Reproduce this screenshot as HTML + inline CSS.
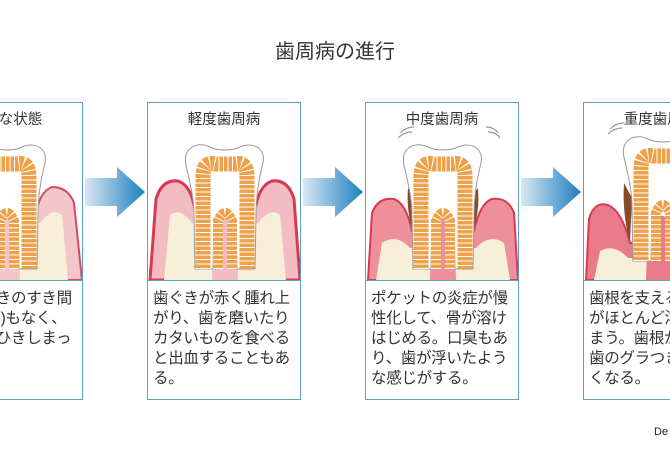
<!DOCTYPE html>
<html><head><meta charset="utf-8"><style>
html,body{margin:0;padding:0;background:#fff;width:670px;height:450px;overflow:hidden;position:relative;font-family:"Liberation Sans","Noto Sans CJK JP",sans-serif;}
.box{position:absolute;top:102px;width:154px;height:298px;border:1.5px solid #5a9fbf;box-sizing:border-box;background:#fff;overflow:hidden;}
.box .div{position:absolute;left:0;right:0;top:177px;border-top:1.5px solid #5a9fbf;}
.box .t{position:absolute;top:5px;left:0;right:0;text-align:center;font-size:14.5px;color:#333;}
.box .b{position:absolute;top:186px;left:5px;right:0;font-size:15.5px;line-height:20px;color:#333;white-space:pre;letter-spacing:-0.3px;}
.box svg{position:absolute;left:0;top:0;}
.title{position:absolute;top:35px;left:0;width:670px;text-align:center;font-size:20px;color:#333;}
.de{position:absolute;left:654px;top:426px;font-size:11px;color:#222;}
.arr{position:absolute;top:165px;}
</style></head><body>
<div class="title">歯周病の進行</div>

<svg width="0" height="0" style="position:absolute">
<defs>
<linearGradient id="ag" x1="0" x2="1"><stop offset="0" stop-color="#d8e8f3"/><stop offset="1" stop-color="#1d7fbf"/></linearGradient>
<g id="tooth">
<path d="M38,62 C34,44 50,38 62,44 C70,48 84,48 92,44 C106,38 120,46 114,64 C110,80 108,95 108,112 L107,166 L89,166 L88,118 C86,104 68,104 66,118 L65,166 L47,166 L46,112 C46,95 42,80 38,62 Z" fill="#fff" stroke="#9a9a9a" stroke-width="1"/>
<path d="M55,166 L55,74 Q55,58 67,61 L87,61 Q99,58 99,74 L99,166" fill="none" stroke="#eea04a" stroke-width="15"/>
<path d="M55,166 L55,74 Q55,58 67,61 L87,61 Q99,58 99,74 L99,166" fill="none" stroke="#fff" stroke-width="15" stroke-dasharray="1 3.5"/>
<path d="M70,166 L70,118 Q77,102 84,118 L84,166" fill="none" stroke="#eea04a" stroke-width="10"/>
<path d="M70,166 L70,118 Q77,102 84,118 L84,166" fill="none" stroke="#fff" stroke-width="10" stroke-dasharray="1 3.5"/>
</g>
</defs></svg>

<!-- panel 1 -->
<div class="box" style="left:-71px;">
<svg width="154" height="177">
<path d="M2,177 L10,100 Q16,84 32,84 Q42,88 46,102 L108,102 Q112,88 122,84 Q138,84 144,100 L152,177 Z" fill="#f3c6ca" stroke="#d84a5e" stroke-width="2"/>
<path d="M16,177 L22,112 Q32,104 44,120 L110,120 Q122,104 132,112 L138,177 Z" fill="#f8efd8"/>
<path d="M64,177 L66,122 Q77,108 88,122 L90,177 Z" fill="#f3c6ca"/>
<use href="#tooth"/>
</svg>
<div class="t">健康な状態</div><div class="div"></div>
<div class="b">歯と歯ぐきのすき間
(ポケット)もなく、
歯ぐきがひきしまっ
ている。</div></div>

<svg class="arr" style="left:85px" width="62" height="55"><path d="M0,13 H32 V2 L60,27 L32,52 V41 H0 Z" fill="url(#ag)"/></svg>

<!-- panel 2 -->
<div class="box" style="left:147px;">
<svg width="154" height="177">
<path d="M2,177 L8,96 Q14,76 30,78 Q42,82 46,102 L108,102 Q112,82 124,78 Q140,76 146,96 L152,177 Z" fill="#f3bcc3" stroke="#d83a52" stroke-width="3"/>
<path d="M16,177 L22,112 Q32,104 44,120 L110,120 Q122,104 132,112 L138,177 Z" fill="#f8efd8"/>
<path d="M64,177 L66,122 Q77,108 88,122 L90,177 Z" fill="#f3bcc3"/>
<use href="#tooth"/>
</svg>
<div class="t">軽度歯周病</div><div class="div"></div>
<div class="b">歯ぐきが赤く腫れ上
がり、歯を磨いたり
カタいものを食べる
と出血することもあ
る。</div></div>

<svg class="arr" style="left:303px" width="62" height="55"><path d="M0,13 H32 V2 L60,27 L32,52 V41 H0 Z" fill="url(#ag)"/></svg>

<!-- panel 3 -->
<div class="box" style="left:365px;">
<svg width="154" height="177">
<path d="M2,177 L6,110 Q12,94 28,96 Q40,100 46,128 L108,128 Q114,100 126,96 Q142,94 148,110 L152,177 Z" fill="#ee909c" stroke="#d83a52" stroke-width="2"/>
<path d="M10,177 L16,140 Q30,130 44,145 L110,145 Q124,130 138,140 L144,177 Z" fill="#f8efd8"/>
<path d="M64,177 L66,122 Q77,108 88,122 L90,177 Z" fill="#ee909c"/>
<path d="M42,85 Q40,110 48,130 L50,95 Z M112,85 Q114,110 106,130 L104,95 Z" fill="#8a4a2a"/>
<use href="#tooth"/>
<path d="M34,30 Q40,24 48,24 M32,35 Q38,29 46,29 M120,24 Q128,24 132,30 M122,29 Q130,29 134,35" fill="none" stroke="#999" stroke-width="1.2"/>
</svg>
<div class="t">中度歯周病</div><div class="div"></div>
<div class="b">ポケットの炎症が慢
性化して、骨が溶け
はじめる。口臭もあ
り、歯が浮いたよう
な感じがする。</div></div>

<svg class="arr" style="left:521px" width="62" height="55"><path d="M0,13 H32 V2 L60,27 L32,52 V41 H0 Z" fill="url(#ag)"/></svg>

<!-- panel 4 -->
<div class="box" style="left:583px;">
<svg width="154" height="177">
<path d="M2,177 L5,116 Q10,98 24,102 Q38,108 46,140 L108,140 Q116,108 130,102 Q144,98 149,116 L152,177 Z" fill="#e97a88" stroke="#d83a52" stroke-width="2"/>
<path d="M10,177 L16,148 Q30,140 44,155 L110,155 Q124,140 138,148 L144,177 Z" fill="#f8efd8"/>
<path d="M62,177 L64,125 Q76,100 90,125 L92,177 Z" fill="#e97a88"/>
<path d="M40,80 Q38,110 46,140 L48,95 Z" fill="#8a4a2a"/>
<g transform="translate(2,-8)"><use href="#tooth"/></g>
<path d="M26,26 Q32,20 40,20 M24,31 Q30,25 38,25" fill="none" stroke="#999" stroke-width="1.2"/>
</svg>
<div class="t">重度歯周病</div><div class="div"></div>
<div class="b">歯根を支える骨
がほとんど溶けてし
まう。歯根が露出し
歯のグラつきが大き
くなる。</div></div>

<div class="de">De</div>
</body></html>
